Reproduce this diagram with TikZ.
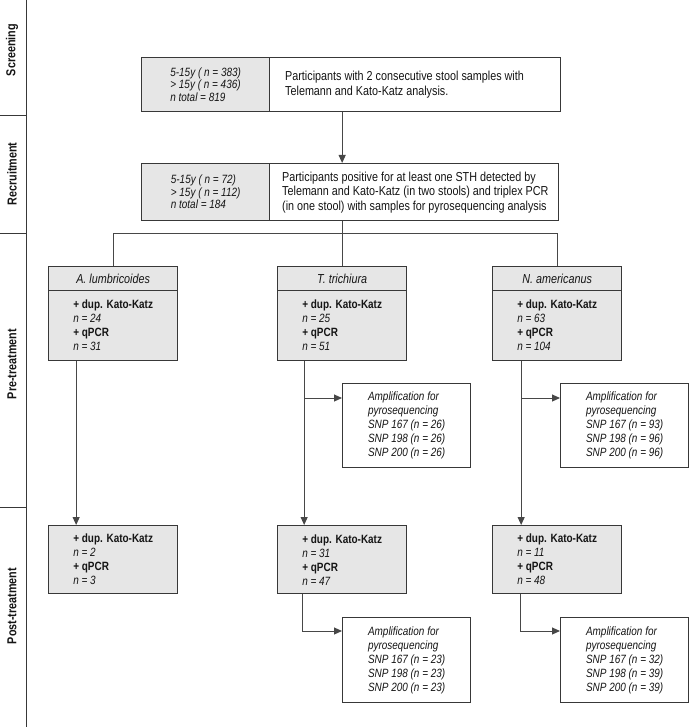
\documentclass[tikz,border=0pt]{standalone}
\usepackage{fontspec}
\setmainfont{Liberation Sans}[FakeStretch=0.83]
\usetikzlibrary{arrows.meta}
\definecolor{bcol}{HTML}{383838}
\definecolor{gfill}{HTML}{E6E6E6}
\definecolor{lcol}{HTML}{474747}
\definecolor{tcol}{HTML}{151515}
\newcommand\fmain{\fontsize{13}{14.5}\selectfont}
\newcommand\fside{\fontsize{12}{12.5}\selectfont\itshape}
\newcommand\fsp{\fontsize{12}{14}\selectfont}
\newcommand\fhead{\fontsize{13}{14}\selectfont\itshape}
\newcommand\flab{\fontsize{13}{14}\selectfont\bfseries}
\begin{document}
\begin{tikzpicture}[x=1pt,y=-1pt,
  every node/.style={text=tcol},
  graybox/.style={draw=bcol, fill=gfill, line width=1.3pt, inner sep=0pt, anchor=north west, align=left, font=\fside},
  whitebox/.style={draw=bcol, fill=white, line width=1.3pt, inner sep=0pt, anchor=north west},
  maintext/.style={inner sep=0pt, anchor=west, align=left, font=\fmain},
  sphead/.style={draw=bcol, fill=gfill, line width=1.3pt, inner sep=0pt, anchor=north west, minimum width=129pt, minimum height=24pt, font=\fhead},
  spbody/.style={draw=bcol, fill=gfill, line width=1.3pt, inner sep=0pt, anchor=north west, minimum width=129pt, align=left, font=\fsp},
  ampbox/.style={draw=bcol, fill=white, line width=1.3pt, inner sep=0pt, anchor=north west, minimum width=128pt, minimum height=85pt, align=left, font=\fsp\itshape},
  conn/.style={draw=lcol, line width=1pt},
  arr/.style={conn, -{Triangle[length=8pt,width=7pt]}},
  sepline/.style={draw=bcol, line width=1pt},
  lab/.style={font=\flab, rotate=90}
]
\useasboundingbox (0,0) rectangle (690,727);
% left frame
\draw[sepline] (26,0) -- (26,727);
\draw[sepline] (0,116) -- (26,116);
\draw[sepline] (0,233) -- (26,233);
\draw[sepline] (0,507) -- (26,507);
\node[lab] (Lscr) at (12,50) {Screening};
\node[lab] (Lrec) at (12,174) {Recruitment};
\node[lab] (Lpre) at (12,364) {Pre-treatment};
\node[lab] (Lpost) at (12,606) {Post-treatment};
% screening box
\node[graybox, minimum width=128pt, minimum height=54pt] (g1) at (141,57) {5-15y ( n = 383)\\> 15y ( n = 436)\\n total = 819};
\node[whitebox, minimum width=291pt, minimum height=54pt] (w1) at (269,57) {};
\node[maintext] (w1t) at ([xshift=16pt]w1.west) {Participants with 2 consecutive stool samples with\\Telemann and Kato-Katz analysis.};
% recruitment box
\node[graybox, minimum width=128pt, minimum height=57pt] (g2) at (141,163) {5-15y ( n = 72)\\> 15y ( n = 112)\\n total = 184};
\node[whitebox, minimum width=289pt, minimum height=57pt] (w2) at (269,163) {};
\node[maintext] (w2t) at ([xshift=13pt]w2.west) {Participants positive for at least one STH detected by\\Telemann and Kato-Katz (in two stools) and triplex PCR\\(in one stool) with samples for pyrosequencing analysis};
% species boxes pre
\node[sphead] (Ahead) at (48,266) {A. lumbricoides};
\node[spbody, minimum height=70pt] (Abody) at (48,290) {\textbf{+ dup. Kato-Katz}\\\textit{n = 24}\\\textbf{+ qPCR}\\\textit{n = 31}};
\node[sphead] (Thead) at (277,266) {T. trichiura};
\node[spbody, minimum height=70pt] (Tbody) at (277,290) {\textbf{+ dup. Kato-Katz}\\\textit{n\ = 25}\\\textbf{+ qPCR}\\\textit{n = 51}};
\node[sphead] (Nhead) at (492,266) {N. americanus};
\node[spbody, minimum height=70pt] (Nbody) at (492,290) {\textbf{+ dup. Kato-Katz}\\\textit{n\ = 63}\\\textbf{+ qPCR}\\\textit{n = 104}};
% amplification pre
\node[ampbox, minimum height=84pt] (Tamp) at (342,383) {Amplification for\\pyrosequencing\\SNP 167 (n = 26)\\SNP 198 (n = 26)\\SNP 200 (n = 26)};
\node[ampbox, minimum height=84pt] (Namp) at (560,383) {Amplification for\\pyrosequencing\\SNP 167 (n = 93)\\SNP 198 (n = 96)\\SNP 200 (n = 96)};
% post boxes
\node[spbody, minimum height=68pt] (Apost) at (48,525) {\textbf{+ dup. Kato-Katz}\\\textit{n = 2}\\\textbf{+ qPCR}\\\textit{n = 3}};
\node[spbody, minimum height=68pt] (Tpost) at (277,525) {\textbf{+ dup. Kato-Katz}\\\textit{n = 31}\\\textbf{+ qPCR}\\\textit{n = 47}};
\node[spbody, minimum height=68pt] (Npost) at (492,525) {\textbf{+ dup. Kato-Katz}\\\textit{n = 11}\\\textbf{+ qPCR}\\\textit{n = 48}};
% amplification post
\node[ampbox] (Tamp2) at (342,617) {Amplification for\\pyrosequencing\\SNP 167 (n = 23)\\SNP 198 (n = 23)\\SNP 200 (n = 23)};
\node[ampbox] (Namp2) at (560,617) {Amplification for\\pyrosequencing\\SNP 167 (n = 32)\\SNP 198 (n = 39)\\SNP 200 (n = 39)};
% connectors
\coordinate (hy) at (0,233);
\draw[arr] (w1.south -| Thead.north) -- (w2.north -| Thead.north);
\draw[conn] (w2.south -| Thead.north) -- (Thead.north |- hy);
\draw[conn] (Ahead.north) -- (Ahead.north |- hy) -- (Nhead.north |- hy) -- (Nhead.north);
\draw[conn] (Thead.north |- hy) -- (Thead.north);
\coordinate (pA) at ([xshift=-37pt]Abody.south);
\coordinate (pT) at ([xshift=-38pt]Tbody.south);
\coordinate (pN) at ([xshift=-36pt]Nbody.south);
\coordinate (tT) at ([yshift=-15pt]Tamp.north west);
\coordinate (tN) at ([yshift=-15pt]Namp.north west);
\draw[arr] (pA) -- (pA |- Apost.north);
\draw[arr] (pT) -- (pT |- Tpost.north);
\draw[arr] (pN) -- (pN |- Npost.north);
\draw[arr] (pT |- tT) -- (tT);
\draw[arr] (pN |- tN) -- (tN);
\coordinate (qT) at ([xshift=-40pt]Tpost.south);
\coordinate (qN) at ([xshift=-37pt]Npost.south);
\coordinate (uT) at ([yshift=-14pt]Tamp2.north west);
\coordinate (uN) at ([yshift=-14pt]Namp2.north west);
\draw[arr] (qT) -- (qT |- uT) -- (uT);
\draw[arr] (qN) -- (qN |- uN) -- (uN);
\end{tikzpicture}
\end{document}
